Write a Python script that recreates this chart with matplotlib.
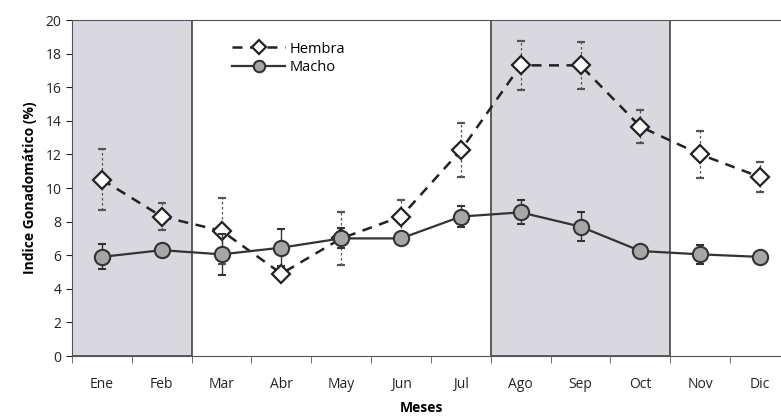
import matplotlib.pyplot as plt
from matplotlib.patches import Rectangle

meses = ["Ene", "Feb", "Mar", "Abr", "May", "Jun", "Jul", "Ago", "Sep", "Oct", "Nov", "Dic"]
hembra = [10.5, 8.3, 7.45, 4.9, 7.0, 8.3, 12.25, 17.3, 17.3, 13.65, 12.0, 10.65]
hembra_err = [1.8, 0.8, 1.95, 0.3, 1.6, 1.0, 1.6, 1.45, 1.4, 1.0, 1.4, 0.9]
macho = [5.9, 6.3, 6.05, 6.45, 7.0, 7.0, 8.3, 8.55, 7.7, 6.25, 6.05, 5.9]
macho_err = [0.75, 0.2, 1.2, 1.1, 0.6, 0.2, 0.65, 0.72, 0.85, 0.2, 0.55, 0.2]
# periodos sombreados (indices de meses)
periodos = [(0, 1), (7, 9)]

plt.rcParams["font.family"] = ["Open Sans", "DejaVu Sans"]

fig = plt.figure(figsize=(7.81, 4.17), dpi=100)
ax = fig.add_axes([72 / 781, 61 / 417, 718 / 781, 336 / 417])

x = list(range(len(meses)))

for a, b in periodos:
    ax.add_patch(Rectangle((a - 0.5, 0), b - a + 1, 20, facecolor="#d8d8de",
                           edgecolor="#444444", linewidth=1.2, zorder=0))

eb = ax.errorbar(x, hembra, yerr=hembra_err, color="#222222", linestyle="--",
                 linewidth=1.8, dashes=(4, 3), marker="D", markersize=9.5,
                 markerfacecolor="white", markeredgecolor="#222222", markeredgewidth=1.6,
                 ecolor="#555555", elinewidth=0.9, capsize=3, label="Hembra", zorder=3)
eb[2][0].set_linestyle((0, (2, 2)))

mb = ax.errorbar(x, macho, yerr=macho_err, color="#333333", linestyle="-",
                 linewidth=1.6, marker="o", markersize=11,
                 markerfacecolor="#a6a6a6", markeredgecolor="#333333", markeredgewidth=1.5,
                 ecolor="#333333", elinewidth=1.0, capsize=3, label="Macho", zorder=4)

ax.set_xlim(-0.5, 11.5)
ax.set_ylim(0, 20)
ax.set_yticks(range(0, 21, 2))
ax.set_xticks(x)
ax.set_xticklabels(meses)
ax.set_xticks([i - 0.5 for i in range(13)], minor=True)
ax.tick_params(axis="x", which="major", length=0, pad=15, labelsize=10, colors="#222222")
ax.tick_params(axis="x", which="minor", length=5, direction="out", color="#555555")
ax.tick_params(axis="y", length=4, labelsize=10, colors="#222222")

for s in ["left", "bottom", "top"]:
    ax.spines[s].set_color("#555555")
ax.spines["right"].set_visible(False)

ax.set_ylabel("Indice Gonadomático (%)", fontsize=10, fontweight="bold", labelpad=6)
ax.set_xlabel("Meses", fontsize=10, fontweight="bold")
ax.xaxis.set_label_coords(0.487, -0.135)
ax.xaxis.label.set_va("top")

ax.legend(handles=[eb[0], mb[0]], labels=["Hembra", "Macho"],
          loc="upper left", bbox_to_anchor=(0.205, 0.975), frameon=False, fontsize=10.5,
          handlelength=3.6, labelspacing=0.25, handletextpad=0.3, markerscale=0.75)

fig.savefig("out.png", dpi=100)
